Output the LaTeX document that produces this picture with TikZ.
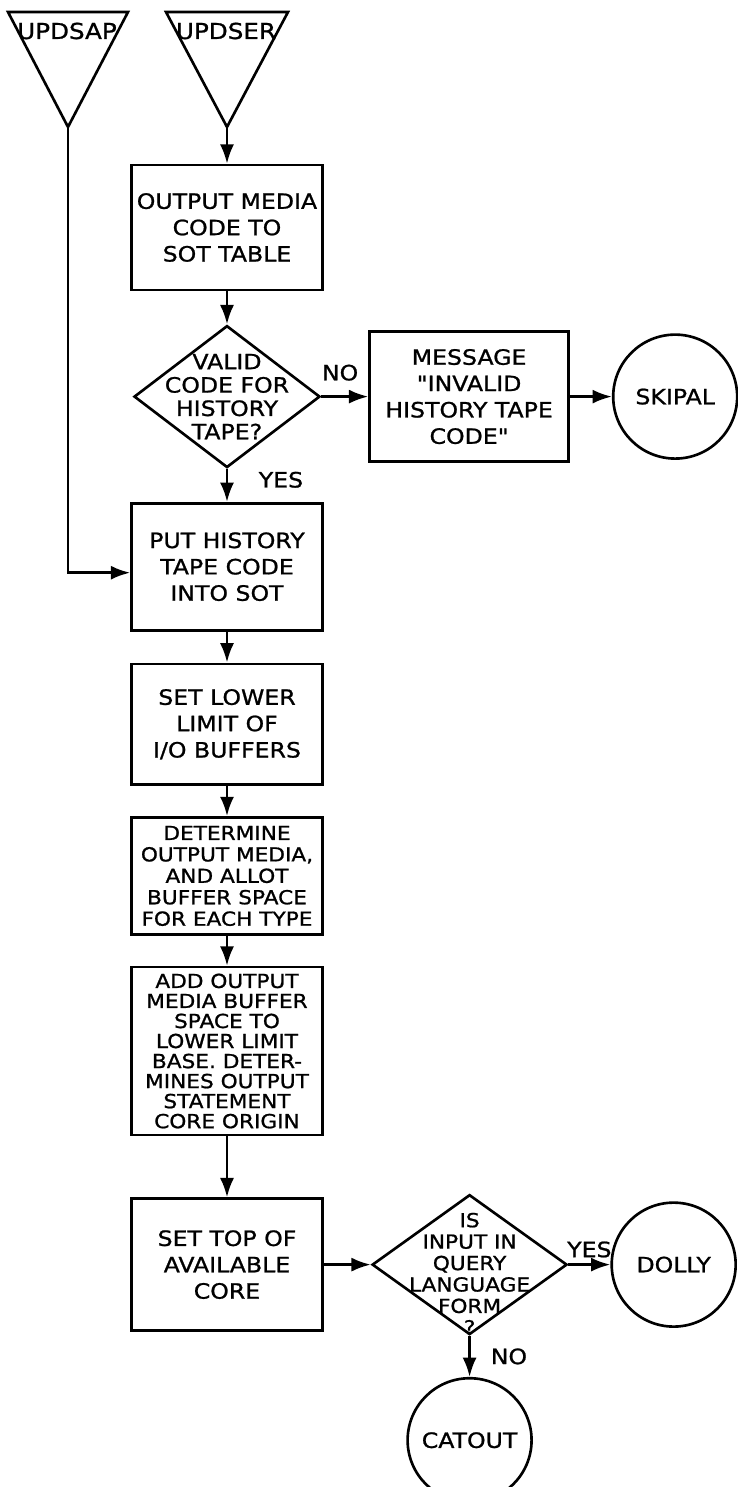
\documentclass[tikz,border=0pt]{standalone}
\usepackage{fontspec}
\setmainfont{DejaVu Sans}[FakeStretch=1.12, FakeBold=1, Ligatures=TeXOff]
\usetikzlibrary{shapes,arrows.meta,positioning}

\begin{document}
\begin{tikzpicture}[
    x=0.02cm, y=-0.02cm,
    node distance=0.66cm,
    box/.style={rectangle, draw, line width=1.5pt, minimum width=3.82cm, inner sep=0pt, align=center, font=\fontsize{12}{15}\selectfont},
    decision/.style={diamond, draw, line width=1.5pt, minimum width=3.72cm, minimum height=2.84cm, inner sep=0pt},
    term/.style={circle, draw, line width=1.5pt, minimum size=2.48cm, inner sep=0pt, font=\fontsize{12}{14}\selectfont},
    flag/.style={font=\fontsize{12}{14}\selectfont},
    entry/.style={line width=1.5pt, line join=miter},
    arrow/.style={-{Latex[length=11pt,width=8pt]}, line width=1.5pt}
]
\useasboundingbox (0,0) rectangle (737,1487);

% entry points
\draw[entry] (8,12) -- (128,12) -- (68,127) -- cycle;
\node[flag, font=\fontsize{12.5}{14}\selectfont] (updsap) at (67,31) {UPDSAP};
\coordinate (updsapTip) at (68,127);
\draw[entry] (166,12) -- (288,12) -- (227,127) -- cycle;
\node[flag, font=\fontsize{12.5}{14}\selectfont] (updser) at (226,31) {UPDSER};
\coordinate (updserTip) at (227,127);

% main column
\node[box, minimum height=2.5cm] (media) at (227,227.5) {OUTPUT MEDIA\\CODE TO\\SOT TABLE};
\node[decision, below=of media,
      label={[align=center, font=\fontsize{12}{13.3}\selectfont]center:{VALID\\CODE FOR\\HISTORY\\TAPE?}}] (valid) {};
\node[box, minimum width=3.98cm, minimum height=2.6cm, right=0.94cm of valid] (msg) {MESSAGE\\"INVALID\\HISTORY TAPE\\CODE"};
\node[term, right=0.84cm of msg] (skipal) {SKIPAL};
\node[box, minimum height=2.54cm, below=of valid] (puthist) {PUT HISTORY\\TAPE CODE\\INTO SOT};
\node[box, minimum height=2.42cm, below=0.62cm of puthist] (lower) {SET LOWER\\LIMIT OF\\I/O BUFFERS};
\node[box, minimum height=2.34cm, below=0.6cm of lower, font=\fontsize{11}{12.2}\selectfont] (allot)
    {DETERMINE\\OUTPUT MEDIA,\\AND ALLOT\\BUFFER SPACE\\FOR EACH TYPE};
\node[box, minimum height=3.36cm, below=0.6cm of allot, font=\fontsize{11}{11.4}\selectfont] (addspace)
    {ADD OUTPUT\\MEDIA BUFFER\\SPACE TO\\LOWER LIMIT\\BASE. DETER-\\MINES OUTPUT\\STATEMENT\\CORE ORIGIN};
\node[box, minimum height=2.64cm, below=1.22cm of addspace] (settop) {SET TOP OF\\AVAILABLE\\CORE};
\node[decision, minimum width=3.9cm, minimum height=2.8cm, right=0.94cm of settop,
      label={[align=center, font=\fontsize{11}{12.2}\selectfont, yshift=-0.18cm]center:{IS\\INPUT IN\\QUERY\\LANGUAGE\\FORM\\?}}] (query) {};
\node[term, right=0.84cm of query] (dolly) {DOLLY};
\node[term, below=0.82cm of query] (catout) {CATOUT};

\draw[arrow] (updserTip) -- (media);
\draw[arrow] (media) -- (valid);
\draw[arrow] (valid) -- node[flag, above=5pt, pos=0.4] {NO} (msg);
\draw[arrow] (msg) -- (skipal);
\draw[arrow] (valid) -- node[flag, right=14pt, pos=0.33] {YES} (puthist);
\draw[arrow] (updsapTip) |- ([yshift=-0.12cm]puthist.west);
\draw[arrow] (puthist) -- (lower);
\draw[arrow] (lower) -- (allot);
\draw[arrow] (allot) -- (addspace);
\draw[arrow] (addspace) -- (settop);
\draw[arrow] (settop) -- (query);
\draw[arrow] (query) -- node[flag, above] {YES} (dolly);
\draw[arrow] (query) -- node[flag, right=8pt] {NO} (catout);
\end{tikzpicture}
\end{document}
